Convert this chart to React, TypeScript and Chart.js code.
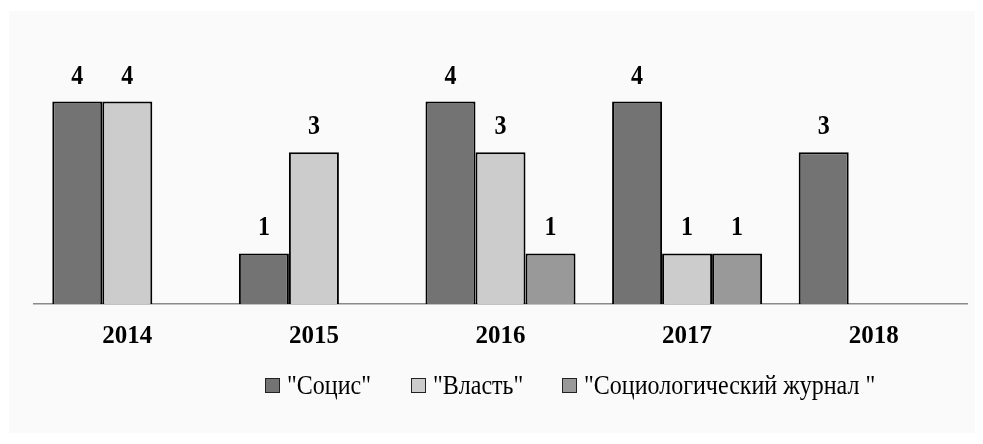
import React, { useEffect, useRef } from "react";
import { Chart, registerables } from "chart.js";

Chart.register(...registerables);

const categories = ["2014", "2015", "2016", "2017", "2018"];
const seriesNames = ['"Социс"', '"Власть"', '"Социологический журнал "'];
const socisValues: (number | null)[] = [4, 1, 4, 4, 3];
const vlastValues: (number | null)[] = [4, 3, 3, 1, null];
const journalValues: (number | null)[] = [null, null, 1, 1, null];
const seriesColors = ["#737373", "#cccccc", "#999999"];

const FONT = '"Liberation Serif", "Times New Roman", serif';
const legendLefts = [265, 411, 562];

const valueLabelPlugin = {
  id: "valueLabels",
  afterDatasetsDraw(chart: any) {
    const ctx = chart.ctx;
    chart.data.datasets.forEach((ds: any, i: number) => {
      const meta = chart.getDatasetMeta(i);
      meta.data.forEach((bar: any, j: number) => {
        const v = ds.data[j];
        if (v === null || v === undefined) return;
        ctx.save();
        ctx.font = `bold 24px ${FONT}`;
        ctx.fillStyle = "#000";
        ctx.textAlign = "center";
        ctx.textBaseline = "middle";
        ctx.translate(bar.x, bar.y - 25);
        ctx.scale(1, 1.12);
        ctx.fillText(String(v), 0, 0);
        ctx.restore();
      });
    });
  },
};

export default function App() {
  const canvasRef = useRef<HTMLCanvasElement | null>(null);

  useEffect(() => {
    document.body.style.margin = "0";
    const canvas = canvasRef.current;
    if (!canvas) return;
    const chart = new Chart(canvas, {
      type: "bar",
      data: {
        labels: categories,
        datasets: [socisValues, vlastValues, journalValues].map((d, i) => ({
          label: seriesNames[i],
          data: d,
          backgroundColor: seriesColors[i],
          borderColor: "#000000",
          borderWidth: 2,
          categoryPercentage: 0.804,
          barPercentage: 1,
        })),
      },
      options: {
        responsive: false,
        animation: false,
        layout: { padding: { left: 34, right: 16, top: 51, bottom: 0 } },
        plugins: {
          legend: { display: false },
          tooltip: { enabled: false },
        },
        scales: {
          x: {
            grid: { display: false, drawTicks: false },
            border: { display: true, color: "#8a8a8a", width: 1.5 },
            ticks: {
              color: "#000",
              font: { family: FONT, size: 25, weight: "bold" },
              padding: 18,
            },
            afterFit: (scale: any) => {
              scale.height = 140;
            },
          },
          y: {
            display: false,
            min: 0,
            max: 5,
          },
        },
      },
      plugins: [valueLabelPlugin],
    });
    return () => chart.destroy();
  }, []);

  return (
    <div style={{ position: "relative", width: 983, height: 444, background: "#ffffff", overflow: "hidden" }}>
      <div style={{ position: "absolute", left: 9, top: 11, width: 966, height: 422, background: "#fafafa" }} />
      <canvas ref={canvasRef} width={983} height={444} style={{ position: "absolute", left: 0, top: 0 }} />
      {seriesNames.map((name, i) => (
        <div
          key={name}
          style={{
            position: "absolute",
            left: legendLefts[i],
            top: 373,
            display: "flex",
            alignItems: "center",
            fontFamily: FONT,
            fontSize: 24,
            lineHeight: "24px",
            color: "#000",
            whiteSpace: "nowrap",
          }}
        >
          <span
            style={{
              display: "inline-block",
              width: 13,
              height: 13,
              background: seriesColors[i],
              border: "1px solid #222",
              marginRight: 7,
            }}
          />
          <span style={{ display: "inline-block", transform: "scale(1, 1.15)", transformOrigin: "left center" }}>{name}</span>
        </div>
      ))}
    </div>
  );
}
